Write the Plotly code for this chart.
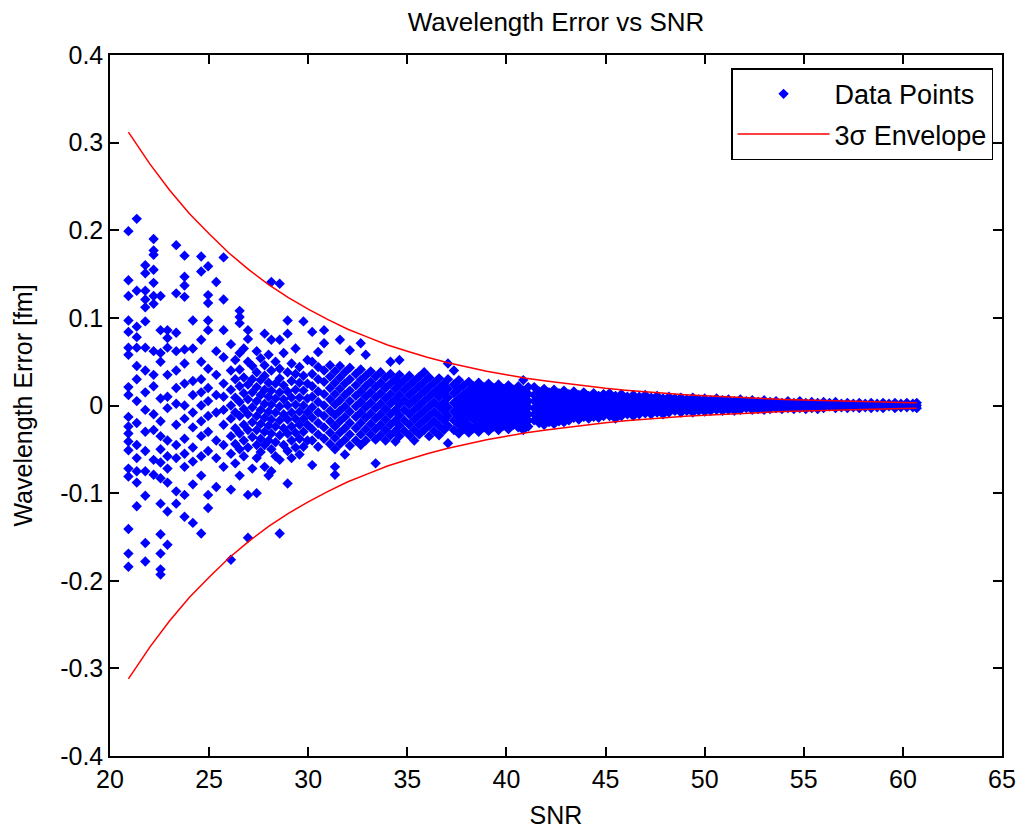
import plotly.graph_objects as go

# ---------------- data ----------------
snr_levels = [
    20.93, 21.35, 21.78, 22.2, 22.55, 22.9, 23.34, 23.76, 24.18, 24.6, 24.95, 25.36, 25.73,
    26.1, 26.32, 26.54, 26.75, 26.96, 27.18, 27.4, 27.6, 27.8, 28.0, 28.14, 28.35, 28.56, 28.76,
    28.96, 29.16, 29.36, 29.56, 29.76, 29.96,
    30.2, 30.5, 30.8, 31.1, 31.35, 31.6, 31.85, 32.1, 32.4, 32.65, 32.9, 33.15, 33.4, 33.65,
    33.9, 34.15, 34.4, 34.6, 34.85, 35.1, 35.35, 35.6, 35.85, 36.1, 36.35, 36.6, 36.85, 37.05,
    37.35, 37.6, 37.85, 38.1, 38.35, 38.6, 38.85, 39.1, 39.35, 39.6, 39.85, 40.1, 40.35, 40.6,
    40.85, 41.1, 41.4, 41.65, 41.9, 42.15, 42.4, 42.65, 42.9, 43.15, 43.4, 43.65, 43.9, 44.15,
    44.4, 44.65, 44.9,
    45.2, 45.5, 45.8, 46.1, 46.4, 46.7, 47.0, 47.3, 47.6, 47.9, 48.2, 48.5, 48.8, 49.1, 49.4,
    49.7, 50.0, 50.3, 50.6, 50.9, 51.2, 51.5, 51.8, 52.1, 52.4, 52.7, 53.0, 53.3, 53.6, 53.9,
    54.2, 54.5, 54.8, 55.1, 55.4, 55.7, 56.0, 56.3, 56.6, 56.9, 57.2, 57.5, 57.8, 58.1, 58.4,
    58.7, 59.0, 59.3, 59.6, 59.9, 60.2, 60.5, 60.7,
]

errors_by_level = [
    [0.199, 0.143, 0.125, 0.097, 0.084, 0.066, 0.058, 0.021, 0.012, -0.013, -0.024, -0.032, -0.041, -0.051, -0.072, -0.081, -0.141, -0.169, -0.184],
    [0.213, 0.131, 0.090, 0.078, 0.066, 0.045, 0.030, 0.005, -0.020, -0.045, -0.060, -0.075, -0.088, -0.115],
    [0.160, 0.151, 0.131, 0.121, 0.112, 0.096, 0.066, 0.040, 0.015, -0.005, -0.030, -0.052, -0.075, -0.103, -0.157, -0.178],
    [0.190, 0.177, 0.172, 0.155, 0.140, 0.125, 0.116, 0.062, 0.035, 0.022, -0.010, -0.028, -0.062, -0.079],
    [0.125, 0.086, 0.060, 0.050, 0.008, -0.018, -0.035, -0.050, -0.065, -0.083, -0.112, -0.147, -0.169, -0.187, -0.193],
    [0.086, 0.077, 0.066, 0.035, 0.010, -0.003, -0.040, -0.058, -0.072, -0.088, -0.121, -0.159],
    [0.183, 0.128, 0.083, 0.062, 0.040, 0.020, 0.002, -0.022, -0.045, -0.060, -0.098, -0.112],
    [0.171, 0.147, 0.137, 0.124, 0.064, 0.048, 0.025, 0.000, -0.015, -0.038, -0.055, -0.070, -0.102, -0.127],
    [0.097, 0.065, 0.028, 0.012, -0.008, -0.025, -0.048, -0.064, -0.090, -0.134],
    [0.170, 0.153, 0.075, 0.050, 0.030, 0.015, 0.000, -0.018, -0.035, -0.058, -0.080, -0.146],
    [0.159, 0.126, 0.117, 0.097, 0.086, 0.042, 0.020, 0.005, -0.012, -0.030, -0.052, -0.102, -0.117],
    [0.141, 0.062, 0.035, 0.012, -0.008, -0.040, -0.060, -0.093],
    [0.169, 0.121, 0.086, 0.055, 0.025, 0.010, -0.005, -0.022, -0.045, -0.070],
    [0.070, 0.040, 0.018, 0.000, -0.015, -0.035, -0.055, -0.096, -0.176],
    [0.052, 0.030, 0.009, -0.008, -0.026, -0.044, -0.066],
    [0.108, 0.101, 0.094, 0.060, 0.041, 0.022, 0.004, -0.012, -0.032, -0.050, -0.080],
    [0.065, 0.032, 0.014, -0.004, -0.022, -0.040, -0.058],
    [0.086, 0.076, 0.050, 0.024, 0.007, -0.010, -0.028, -0.048, -0.102, -0.151],
    [0.045, 0.030, 0.015, -0.002, -0.019, -0.036, -0.072],
    [0.062, 0.038, 0.021, 0.005, -0.012, -0.028, -0.045, -0.060, -0.100],
    [0.054, 0.029, 0.012, -0.005, -0.021, -0.038, -0.053],
    [0.082, 0.046, 0.034, 0.018, 0.002, -0.014, -0.030, -0.045, -0.070],
    [0.058, 0.026, 0.010, -0.007, -0.023, -0.040, -0.080],
    [0.141, 0.075, 0.040, 0.017, 0.001, -0.016, -0.032, -0.050, -0.075],
    [0.050, 0.025, 0.008, -0.008, -0.024, -0.042, -0.058],
    [0.139, 0.075, 0.042, 0.031, 0.015, -0.001, -0.017, -0.034, -0.062, -0.146],
    [0.060, 0.023, 0.007, -0.010, -0.026, -0.045],
    [0.097, 0.082, 0.038, 0.016, 0.000, -0.016, -0.032, -0.052, -0.089],
    [0.048, 0.028, 0.009, -0.008, -0.024, -0.040, -0.060],
    [0.065, 0.036, 0.018, 0.001, -0.015, -0.031, -0.048],
    [0.044, 0.026, 0.009, -0.007, -0.022, -0.038, -0.056],
    [0.096, 0.034, 0.017, 0.000, -0.015, -0.030, -0.047],
    [0.052, 0.025, 0.008, -0.008, -0.022, -0.040],
    [0.084, 0.050, 0.036, 0.022, 0.010, -0.002, -0.014, -0.027, -0.040, -0.068],
    [0.061, 0.044, 0.030, 0.016, 0.004, -0.008, -0.020, -0.033, -0.047],
    [0.086, 0.071, 0.040, 0.027, 0.013, 0.000, -0.012, -0.025, -0.038],
    [0.046, 0.033, 0.020, 0.007, -0.006, -0.018, -0.031, -0.044],
    [0.039, 0.026, 0.013, 0.001, -0.011, -0.024, -0.037, -0.050, -0.070, -0.079],
    [0.075, 0.045, 0.032, 0.019, 0.006, -0.006, -0.018, -0.031, -0.044],
    [0.038, 0.025, 0.012, -0.001, -0.013, -0.026, -0.039, -0.056],
    [0.063, 0.043, 0.030, 0.017, 0.005, -0.007, -0.020, -0.033, -0.046],
    [0.036, 0.023, 0.011, -0.001, -0.013, -0.026, -0.040],
    [0.071, 0.041, 0.029, 0.016, 0.004, -0.008, -0.020, -0.033, -0.045],
    [0.058, 0.034, 0.022, 0.010, -0.002, -0.014, -0.027, -0.040],
    [0.039, 0.027, 0.015, 0.003, -0.009, -0.021, -0.033],
    [0.033, 0.021, 0.009, -0.003, -0.015, -0.027, -0.039, -0.066],
    [0.038, 0.026, 0.014, 0.002, -0.010, -0.022, -0.034],
    [0.032, 0.020, 0.008, -0.004, -0.016, -0.028, -0.040],
    [0.050, 0.036, 0.025, 0.013, 0.002, -0.010, -0.022, -0.034],
    [0.030, 0.019, 0.007, -0.005, -0.017, -0.029, -0.041],
    [0.052, 0.035, 0.024, 0.012, 0.001, -0.011, -0.023, -0.035],
    [0.029, 0.018, 0.006, -0.005, -0.017, -0.029],
    [0.034, 0.023, 0.012, 0.001, -0.010, -0.022, -0.034],
    [0.028, 0.017, 0.006, -0.005, -0.016, -0.028, -0.040],
    [0.033, 0.022, 0.011, 0.000, -0.011, -0.022, -0.033],
    [0.038, 0.027, 0.016, 0.005, -0.006, -0.017, -0.028],
    [0.032, 0.021, 0.010, -0.001, -0.012, -0.023, -0.035],
    [0.026, 0.015, 0.004, -0.007, -0.018, -0.029],
    [0.031, 0.020, 0.010, -0.001, -0.012, -0.023, -0.034],
    [0.025, 0.015, 0.004, -0.006, -0.017, -0.028],
    [0.048, 0.030, 0.019, 0.009, -0.002, -0.012, -0.023, -0.043],
    [0.040, 0.024, 0.014, 0.003, -0.007, -0.017, -0.028],
    [0.029, 0.019, 0.008, -0.002, -0.012, -0.022, -0.032],
    [0.023, 0.013, 0.003, -0.007, -0.017, -0.027],
    [0.027, 0.017, 0.008, -0.002, -0.012, -0.022, -0.031],
    [0.022, 0.012, 0.003, -0.007, -0.016, -0.026],
    [0.026, 0.017, 0.007, -0.002, -0.011, -0.021, -0.030],
    [0.021, 0.012, 0.002, -0.007, -0.016, -0.025],
    [0.025, 0.016, 0.007, -0.002, -0.011, -0.020, -0.029],
    [0.020, 0.011, 0.002, -0.007, -0.015, -0.024],
    [0.024, 0.015, 0.006, -0.002, -0.011, -0.019, -0.028],
    [0.019, 0.010, 0.002, -0.007, -0.015, -0.023],
    [0.023, 0.014, 0.006, -0.002, -0.010, -0.019, -0.027],
    [0.018, 0.010, 0.002, -0.006, -0.014, -0.022],
    [0.022, 0.014, 0.006, -0.002, -0.010, -0.018, -0.025],
    [0.029, 0.017, 0.009, 0.001, -0.006, -0.014, -0.021, -0.028],
    [0.021, 0.013, 0.005, -0.002, -0.010, -0.017, -0.024],
    [0.021, 0.012, 0.005, -0.003, -0.010, -0.017],
    [0.016, 0.008, 0.001, -0.006, -0.013, -0.020],
    [0.019, 0.012, 0.005, -0.002, -0.009, -0.016, -0.022],
    [0.015, 0.008, 0.001, -0.006, -0.013, -0.019],
    [0.018, 0.011, 0.004, -0.002, -0.009, -0.015, -0.021],
    [0.014, 0.007, 0.001, -0.006, -0.012, -0.018],
    [0.017, 0.010, 0.004, -0.002, -0.008, -0.014, -0.019],
    [0.013, 0.007, 0.001, -0.005, -0.011, -0.017],
    [0.016, 0.009, 0.003, -0.003, -0.008, -0.014],
    [0.012, 0.006, 0.000, -0.006, -0.011, -0.016],
    [0.015, 0.009, 0.003, -0.002, -0.008, -0.013],
    [0.011, 0.006, 0.000, -0.005, -0.011, -0.015],
    [0.014, 0.008, 0.003, -0.002, -0.007, -0.013],
    [0.011, 0.005, 0.000, -0.005, -0.010, -0.014],
    [0.013, 0.008, 0.002, -0.003, -0.008, -0.012],
    [0.014, 0.008, 0.003, -0.002, -0.007, -0.012],
    [0.011, 0.005, 0.000, -0.005, -0.010, -0.015],
    [0.013, 0.007, 0.002, -0.003, -0.008, -0.012],
    [0.010, 0.005, 0.000, -0.005, -0.010],
    [0.012, 0.007, 0.002, -0.003, -0.008, -0.012],
    [0.010, 0.004, -0.001, -0.006, -0.010],
    [0.012, 0.006, 0.001, -0.004, -0.009],
    [0.009, 0.004, -0.001, -0.006, -0.010],
    [0.011, 0.006, 0.001, -0.004, -0.008],
    [0.008, 0.003, -0.002, -0.006, -0.010],
    [0.010, 0.005, 0.000, -0.004, -0.008],
    [0.008, 0.003, -0.002, -0.006],
    [0.009, 0.004, 0.000, -0.004, -0.008],
    [0.007, 0.003, -0.002, -0.006],
    [0.009, 0.004, 0.000, -0.004, -0.008],
    [0.007, 0.002, -0.002, -0.006],
    [0.008, 0.004, 0.000, -0.004, -0.007],
    [0.006, 0.002, -0.002, -0.006],
    [0.008, 0.003, -0.001, -0.005],
    [0.006, 0.002, -0.002, -0.006],
    [0.007, 0.003, -0.001, -0.005],
    [0.005, 0.001, -0.003, -0.006],
    [0.007, 0.003, -0.001, -0.005],
    [0.005, 0.001, -0.003],
    [0.006, 0.002, -0.002, -0.005],
    [0.004, 0.000, -0.004],
    [0.006, 0.002, -0.002, -0.005],
    [0.004, 0.000, -0.004],
    [0.005, 0.001, -0.003],
    [0.003, -0.001, -0.004],
    [0.005, 0.001, -0.003],
    [0.003, -0.001, -0.004],
    [0.005, 0.001, -0.003],
    [0.003, -0.001, -0.004],
    [0.004, 0.000, -0.003],
    [0.003, -0.001, -0.004],
    [0.004, 0.000, -0.003],
    [0.003, -0.001],
    [0.004, 0.000, -0.003],
    [0.002, -0.002],
    [0.003, 0.000, -0.003],
    [0.002, -0.002],
    [0.003, 0.000, -0.003],
    [0.002, -0.002],
    [0.003, 0.000, -0.003],
    [0.002, -0.002],
    [0.003, 0.000, -0.003],
    [0.002, -0.001],
    [0.003, 0.000, -0.003],
    [0.002, -0.002],
    [0.003, 0.000, -0.002],
    [0.002, -0.002],
    [0.003, 0.000, -0.003],
]

# 3-sigma envelope (upper half; lower half is its mirror)
envelope_snr = [20.93, 22, 23, 24, 25, 26, 27, 28, 29, 30, 31, 32, 33, 34, 35, 36, 37, 38, 39, 40,
                41, 42, 43, 44, 45, 46, 47, 48, 49, 50, 51, 52, 53, 54, 55, 56, 57, 58, 59, 60, 60.7]
envelope_3sigma = [0.312, 0.276, 0.246, 0.219, 0.196, 0.174, 0.155, 0.138, 0.123, 0.110, 0.098,
                   0.087, 0.078, 0.069, 0.062, 0.055, 0.049, 0.044, 0.039, 0.035, 0.031, 0.028,
                   0.025, 0.022, 0.0196, 0.0174, 0.0155, 0.0138, 0.0123, 0.0110, 0.0098, 0.0087,
                   0.0078, 0.0069, 0.0062, 0.0055, 0.0049, 0.0044, 0.0039, 0.0035, 0.0032]

x_tick_values = [20, 25, 30, 35, 40, 45, 50, 55, 60, 65]
x_tick_labels = ["20", "25", "30", "35", "40", "45", "50", "55", "60", "65"]
y_tick_values = [-0.4, -0.3, -0.2, -0.1, 0, 0.1, 0.2, 0.3, 0.4]
y_tick_labels = ["-0.4", "-0.3", "-0.2", "-0.1", "0", "0.1", "0.2", "0.3", "0.4"]

# ---------------- build traces ----------------
pts_x, pts_y = [], []
for s, errs in zip(snr_levels, errors_by_level):
    for e in errs:
        pts_x.append(s)
        pts_y.append(e)

env_x = envelope_snr + [None] + envelope_snr
env_y = envelope_3sigma + [None] + [-v for v in envelope_3sigma]

FONT = "Liberation Sans, Arial, Helvetica, sans-serif"
FS = 26

fig = go.Figure()
fig.add_trace(go.Scatter(
    x=pts_x, y=pts_y, mode="markers", name="Data Points", legendgroup="a",
    marker=dict(symbol="diamond", size=8, color="rgb(0,0,255)", line=dict(width=0)),
))
fig.add_trace(go.Scatter(
    x=env_x, y=env_y, mode="lines", name="3σ Envelope", legendgroup="b",
    line=dict(color="rgb(255,0,0)", width=1.5), connectgaps=False,
))

axis_common = dict(
    showgrid=False, zeroline=False, showline=True, linecolor="black", linewidth=1.5,
    mirror="allticks", ticks="inside", ticklen=9, tickwidth=1.5, tickcolor="black",
    tickfont=dict(family=FONT, size=FS - 1, color="black"), automargin=False,
)

fig.update_layout(
    width=1022, height=832,
    margin=dict(l=110, r=20, t=55, b=76, pad=0, autoexpand=False),
    paper_bgcolor="white", plot_bgcolor="white",
    font=dict(family=FONT, size=FS, color="black"),
    title=dict(text="Wavelength Error vs SNR", x=0.5, xref="paper", xanchor="center",
               y=1 - 22 / 832, yref="container", yanchor="middle",
               font=dict(family=FONT, size=FS, color="black")),
    xaxis=dict(range=[20, 65], tickvals=x_tick_values, ticktext=x_tick_labels,
               title=dict(text="SNR", standoff=15, font=dict(family=FONT, size=FS - 1)),
               **axis_common),
    yaxis=dict(range=[-0.4, 0.4], tickvals=y_tick_values, ticktext=y_tick_labels,
               title=dict(text="Wavelength Error [fm]", standoff=20, font=dict(family=FONT, size=FS - 1)),
               **axis_common),
    legend=dict(x=0.990, y=0.981, xanchor="right", yanchor="top",
                bgcolor="white", bordercolor="black", borderwidth=1.5,
                font=dict(family=FONT, size=27, color="black"), itemwidth=92,
                traceorder="grouped", tracegroupgap=2),
    showlegend=True,
)

fig.write_html("out.html")
